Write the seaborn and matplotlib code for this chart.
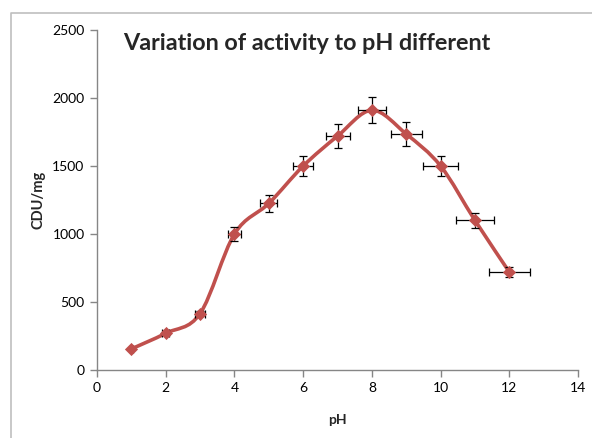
import numpy as np
import pandas as pd
import matplotlib
matplotlib.use("Agg")
import matplotlib.pyplot as plt
from matplotlib.path import Path
from matplotlib.patches import PathPatch
from matplotlib.lines import Line2D
import seaborn as sns

# Data
ph = [1, 2, 3, 4, 5, 6, 7, 8, 9, 10, 11, 12]
activity = [155, 270, 415, 1000, 1225, 1500, 1720, 1910, 1735, 1500, 1100, 720]
y_err = [8, 14, 21, 50, 61, 75, 86, 96, 87, 75, 55, 36]
x_err = [0.05, 0.1, 0.15, 0.2, 0.25, 0.3, 0.35, 0.4, 0.45, 0.5, 0.55, 0.6]

df = pd.DataFrame({"pH": ph, "CDU/mg": activity})

sns.set_theme(style="white")
plt.rcParams["font.family"] = ["Lato", "DejaVu Sans"]

red = "#C0504D"
grey = "#868686"

fig = plt.figure(figsize=(5.92, 4.38), dpi=100)
ax = fig.add_axes([0.1639, 0.1553, 0.8125, 0.7762])

# smoothed line (Catmull-Rom as cubic Bezier, like Excel's smoothed line)
pts = df[["pH", "CDU/mg"]].to_numpy(dtype=float)
ext = np.vstack([pts[0], pts, pts[-1]])
verts = [tuple(pts[0])]
codes = [Path.MOVETO]
for i in range(1, len(ext) - 2):
    p0, p1, p2, p3 = ext[i - 1], ext[i], ext[i + 1], ext[i + 2]
    c1 = p1 + (p2 - p0) / 6
    c2 = p2 - (p3 - p1) / 6
    verts += [tuple(c1), tuple(c2), tuple(p2)]
    codes += [Path.CURVE4] * 3
ax.add_patch(PathPatch(Path(verts, codes), facecolor="none", edgecolor=red,
                       lw=2.6, zorder=2, capstyle="round", joinstyle="round"))

ax.errorbar(df["pH"], df["CDU/mg"], xerr=x_err, yerr=y_err, fmt="none",
            ecolor="black", elinewidth=0.9, capsize=3, capthick=0.9, zorder=3)

sns.scatterplot(data=df, x="pH", y="CDU/mg", marker="D", s=45, color=red,
                edgecolor=red, linewidth=0, ax=ax, zorder=4)

ax.set_xlim(0, 14)
ax.set_ylim(0, 2500)
ax.set_xticks(range(0, 15, 2))
ax.set_yticks(range(0, 2501, 500))
for side in ["top", "right"]:
    ax.spines[side].set_visible(False)
for side in ["left", "bottom"]:
    ax.spines[side].set_color(grey)
    ax.spines[side].set_linewidth(1)
ax.tick_params(axis="both", direction="out", length=5, width=1, color=grey,
               labelsize=10, pad=4, colors="black")
ax.tick_params(axis="both", which="both", bottom=True, left=True)
for t in ax.get_xticklabels() + ax.get_yticklabels():
    t.set_color("black")
ax.set_xlabel("pH", fontsize=10, fontweight="bold", labelpad=14)
ax.set_ylabel("CDU/mg", fontsize=10.5, fontweight="bold", labelpad=5)

fig.text(123 / 592, 1 - 44 / 438, "Variation of activity to pH different",
         fontsize=16.8, fontweight="bold", ha="left", va="center")

# outer chart border (partly cropped in the reference)
border = Line2D([11 / 592, 11 / 592, 1.0], [0.0, 1 - 13 / 438, 1 - 13 / 438],
                transform=fig.transFigure, color="#bfbfbf", lw=1.2)
fig.add_artist(border)

fig.savefig("out.png", dpi=100, facecolor="white")
